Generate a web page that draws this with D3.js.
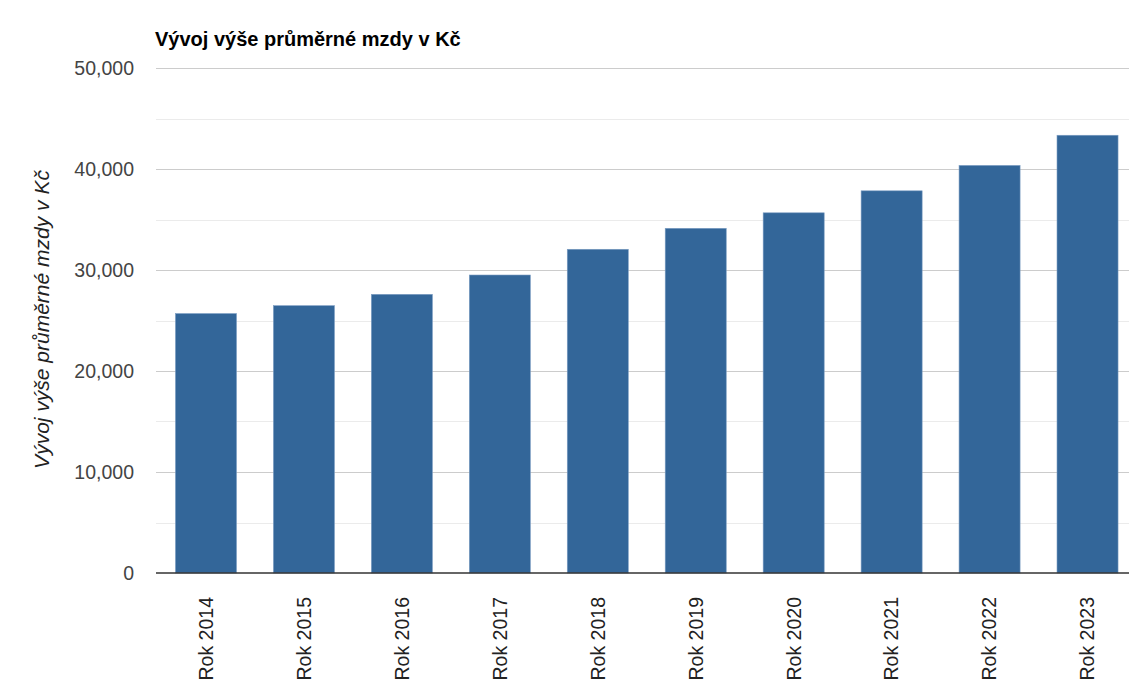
<!DOCTYPE html>
<html>
<head>
<meta charset="utf-8">
<script src="https://cdn.jsdelivr.net/npm/d3@7"></script>
<style>
  html, body { margin: 0; padding: 0; background: #fff; }
  svg { display: block; font-family: "Liberation Sans", Arial, sans-serif; }
</style>
</head>
<body>
<svg id="chart" width="1129" height="681"></svg>
<script>
// Průměrná mzda v ČR (Kč)
const years = ["Rok 2014", "Rok 2015", "Rok 2016", "Rok 2017", "Rok 2018",
               "Rok 2019", "Rok 2020", "Rok 2021", "Rok 2022", "Rok 2023"];
const wages = [25686, 26467, 27589, 29504, 32051, 34125, 35662, 37839, 40353, 43341];
const majorTicks = [0, 10000, 20000, 30000, 40000, 50000];
const minorTicks = [5000, 15000, 25000, 35000, 45000];

const title = "Vývoj výše průměrné mzdy v Kč";
const axisTitle = "Vývoj výše průměrné mzdy v Kč";

const svg = d3.select("#chart");
const plotLeft = 156, plotRight = 1129, plotTop = 68, plotBottom = 573;

const x = d3.scaleBand()
  .domain(years)
  .range([157, 1136.5])
  .paddingInner(0.377)
  .paddingOuter(0.1885);

const y = d3.scaleLinear()
  .domain([0, 50000])
  .range([plotBottom, plotTop]);

// minor gridlines
svg.append("g")
  .selectAll("line")
  .data(minorTicks)
  .join("line")
  .attr("x1", plotLeft).attr("x2", plotRight)
  .attr("y1", d => Math.round(y(d)) + 0.5).attr("y2", d => Math.round(y(d)) + 0.5)
  .attr("stroke", "#ebebeb").attr("stroke-width", 1);

// major gridlines
svg.append("g")
  .selectAll("line")
  .data(majorTicks.filter(d => d > 0))
  .join("line")
  .attr("x1", plotLeft).attr("x2", plotRight)
  .attr("y1", d => Math.round(y(d)) + 0.5).attr("y2", d => Math.round(y(d)) + 0.5)
  .attr("stroke", "#cccccc").attr("stroke-width", 1);

// bars
svg.append("g")
  .selectAll("rect")
  .data(years.map((k, i) => ({ k, v: wages[i] })))
  .join("rect")
  .attr("x", d => x(d.k))
  .attr("width", x.bandwidth())
  .attr("y", d => y(d.v))
  .attr("height", d => y(0) - y(d.v))
  .attr("fill", "#336699")
  .attr("stroke", "#7a9cc2")
  .attr("stroke-width", 0.6);

// baseline
svg.append("line")
  .attr("x1", plotLeft).attr("x2", plotRight)
  .attr("y1", y(0)).attr("y2", y(0))
  .attr("stroke", "#333333").attr("stroke-width", 1.5);

// y-axis labels
const yAxis = d3.axisLeft(y)
  .tickValues(majorTicks)
  .tickSize(0)
  .tickPadding(0)
  .tickFormat(d3.format(","));
const yg = svg.append("g")
  .attr("transform", `translate(134,0)`)
  .call(yAxis);
yg.select(".domain").remove();
yg.selectAll("text")
  .attr("font-size", 19.5)
  .attr("font-family", "'Liberation Sans', Arial, sans-serif")
  .attr("fill", "#444444")
  .attr("dy", "0.35em");

// x-axis labels (rotated)
const xAxis = d3.axisBottom(x).tickSize(0).tickPadding(0);
const xg = svg.append("g")
  .attr("transform", `translate(0,${plotBottom})`)
  .call(xAxis);
xg.select(".domain").remove();
xg.selectAll("text")
  .attr("font-size", 19.5)
  .attr("font-family", "'Liberation Sans', Arial, sans-serif")
  .attr("fill", "#222222")
  .attr("text-anchor", "end")
  .attr("transform", "rotate(-90)")
  .attr("x", -24)
  .attr("y", 0)
  .attr("dy", "0.35em");

// chart title
svg.append("text")
  .attr("x", 155).attr("y", 46)
  .attr("font-size", 20)
  .attr("font-weight", "bold")
  .attr("fill", "#000")
  .text(title);

// y-axis title
svg.append("text")
  .attr("transform", `translate(49,319.5) rotate(-90)`)
  .attr("text-anchor", "middle")
  .attr("font-size", 21)
  .attr("font-style", "italic")
  .attr("fill", "#222222")
  .text(axisTitle);
</script>
</body>
</html>
